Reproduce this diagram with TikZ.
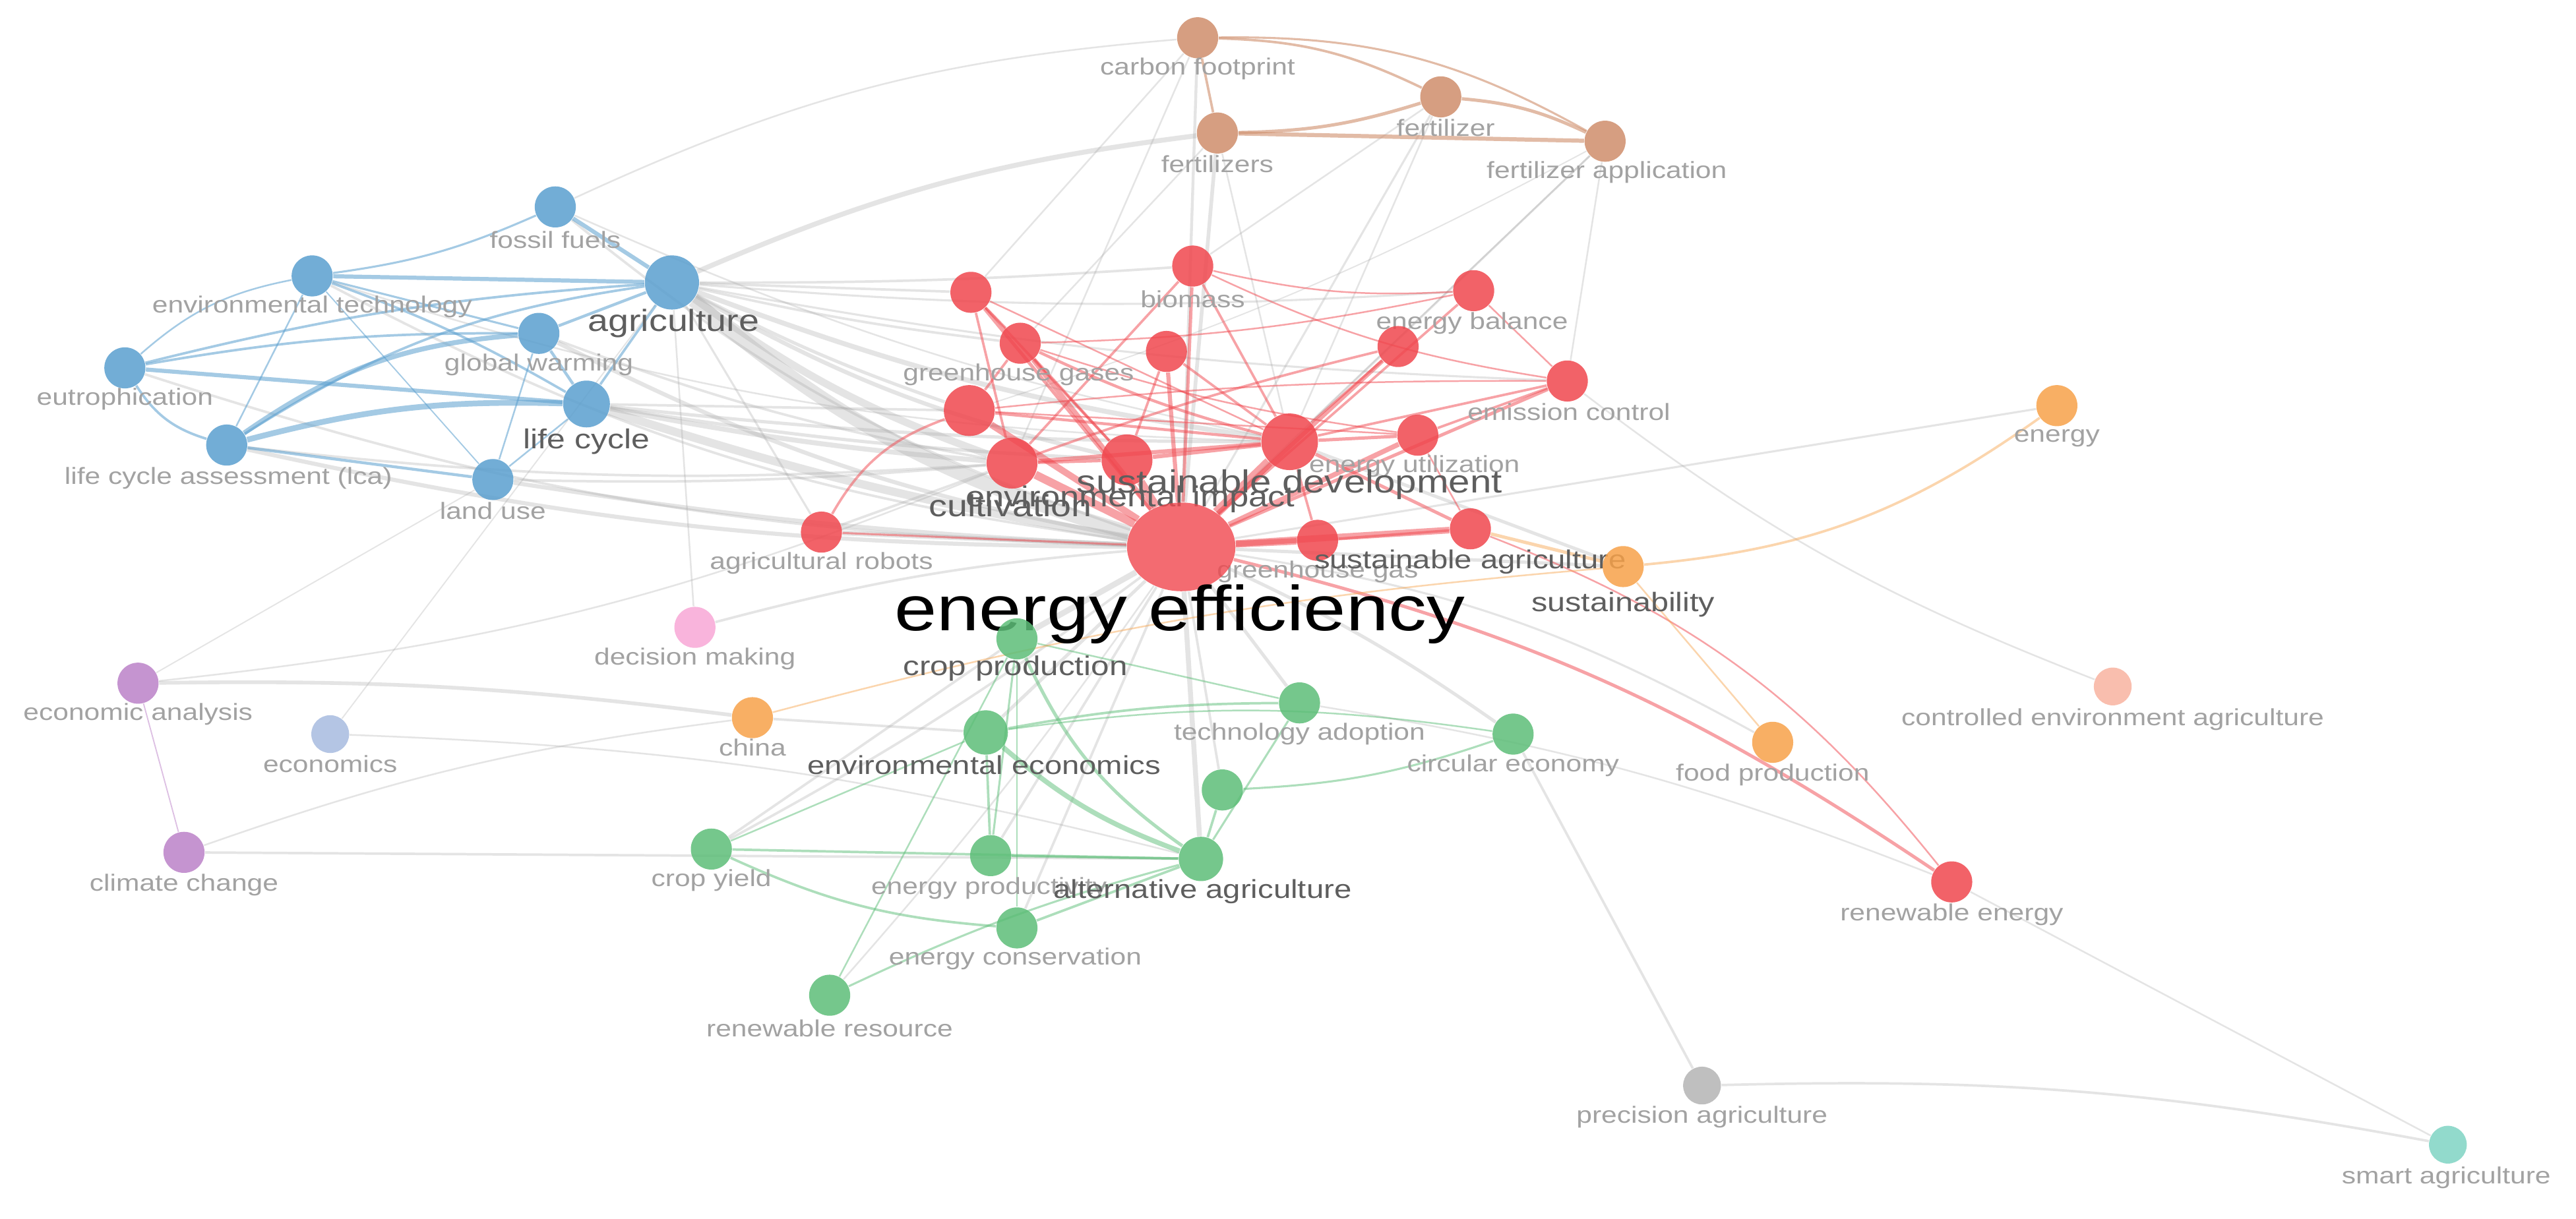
\documentclass[tikz,border=0pt]{standalone}
\usepackage{fontspec}
\setmainfont{Liberation Sans}[FakeStretch=1.2]
\usetikzlibrary{backgrounds,shapes.geometric}

\definecolor{cblue}{HTML}{5A9FCF}
\definecolor{cred}{HTML}{F0474E}
\definecolor{cgreen}{HTML}{5DBE78}
\definecolor{corange}{HTML}{F7A24A}
\definecolor{cbrown}{HTML}{CF8E6C}
\definecolor{cpurple}{HTML}{BC82C8}
\definecolor{cpink}{HTML}{F8A8D6}
\definecolor{cecon}{HTML}{A8BBE0}
\definecolor{csalmon}{HTML}{F9B3A0}
\definecolor{cgrey}{HTML}{B4B4B4}
\definecolor{cteal}{HTML}{80D4C4}
\definecolor{egrey}{HTML}{A8A8A8}
\definecolor{lgrey}{HTML}{A2A2A2}
\definecolor{mgrey}{HTML}{5E5E5E}

\begin{document}
\begin{tikzpicture}[x=0.2mm, y=-0.2mm,
  kw/.style={circle, draw=none, inner sep=0pt, minimum size=5mm, fill opacity=0.85},
  tiny/.style={minimum size=4.6mm},
  lbl/.style={inner sep=0pt, text=lgrey, font=\fontsize{8.1}{9}\selectfont},
  lblm/.style={inner sep=0pt, text=mgrey},
  gline/.style={draw=egrey, draw opacity=0.3},
  bline/.style={draw=cblue, draw opacity=0.55},
  rline/.style={draw=cred, draw opacity=0.5},
  vline/.style={draw=cgreen, draw opacity=0.5},
  oline/.style={draw=corange, draw opacity=0.45},
  nline/.style={draw=cbrown, draw opacity=0.6}]

% brown cluster
\node[kw, fill=cbrown] (cfoot) at (729,23) {};
\node[lbl] (cfoot-l) at (729,42) {carbon footprint};
\node[kw, fill=cbrown] (fzs) at (741,81) {};
\node[lbl] (fzs-l) at (741,100) {fertilizers};
\node[kw, fill=cbrown] (fz) at (877,59) {};
\node[lbl] (fz-l) at (880,78) {fertilizer};
\node[kw, fill=cbrown] (fzapp) at (977,86) {};
\node[lbl] (fzapp-l) at (978,105) {fertilizer application};

% blue cluster
\node[kw, fill=cblue] (fossil) at (338,126) {};
\node[lbl] (fossil-l) at (338,146) {fossil fuels};
\node[kw, fill=cblue, minimum size=6.6mm] (agri) at (409,172) {};
\node[lblm, font=\fontsize{10.6}{12}\selectfont] (agri-l) at (410,197) {agriculture};
\node[kw, fill=cblue] (envtech) at (190,168) {};
\node[lbl] (envtech-l) at (190,187) {environmental technology};
\node[kw, fill=cblue] (gwarm) at (328,203) {};
\node[lbl] (gwarm-l) at (328,222) {global warming};
\node[kw, fill=cblue] (eutro) at (76,224) {};
\node[lbl] (eutro-l) at (76,243) {eutrophication};
\node[kw, fill=cblue, minimum size=5.7mm] (lcyc) at (357,246) {};
\node[lblm, font=\fontsize{9.5}{11}\selectfont] (lcyc-l) at (357,269) {life cycle};
\node[kw, fill=cblue] (lca) at (138,271) {};
\node[lbl] (lca-l) at (139,291) {life cycle assessment (lca)};
\node[kw, fill=cblue] (landuse) at (300,292) {};
\node[lbl] (landuse-l) at (300,311) {land use};

% red cluster
\node[kw, fill=cred] (r1) at (591,178) {};
\node[kw, fill=cred] (ghgs) at (621,209) {};
\node[lbl] (ghgs-l) at (620,228) {greenhouse gases};
\node[kw, fill=cred] (biomass) at (726,162) {};
\node[lbl] (biomass-l) at (726,182) {biomass};
\node[kw, fill=cred] (r2) at (710,214) {};
\node[kw, fill=cred] (ebal) at (897,177) {};
\node[lbl] (ebal-l) at (896,197) {energy balance};
\node[kw, fill=cred] (r3) at (851,211) {};
\node[kw, fill=cred] (emis) at (954,232) {};
\node[lbl] (emis-l) at (955,251) {emission control};
\node[kw, fill=cred, minimum size=6.2mm] (r4) at (590,250) {};
\node[kw, fill=cred, minimum size=6.2mm] (cult) at (616,282) {};
\node[kw, fill=cred, minimum size=6.2mm] (envimp) at (686,280) {};
\node[kw, fill=cred, minimum size=6.9mm] (sdev) at (785,269) {};
\node[kw, fill=cred] (eutil) at (863,265) {};
\node[lbl] (eutil-l) at (861,284) {energy utilization};
\node[kw, fill=cred] (ghg) at (802,329) {};
\node[lbl] (ghg-l) at (802,348) {greenhouse gas};
\node[kw, fill=cred] (sagri) at (895,322) {};
\node[lblm, font=\fontsize{9}{10}\selectfont] (sagri-l) at (895,342) {sustainable agriculture};
\node[lblm, font=\fontsize{10}{11}\selectfont] (envimp-l) at (688,304) {environmental impact};
\node[lblm, font=\fontsize{10.6}{12}\selectfont] (cult-l) at (615,308) {cultivation};
\node[lblm, font=\fontsize{11.1}{12}\selectfont] (sdev-l) at (785,295) {sustainable development};
\node[ellipse, draw=none, inner sep=0pt, minimum width=13.2mm, minimum height=10.8mm, fill=cred, fill opacity=0.8] (ee) at (719,333) {};
\node[inner sep=0pt, text=black, font=\fontsize{22}{24}\selectfont] (ee-l) at (718,374) {energy efficiency};
\node[kw, fill=cred] (robots) at (500,324) {};
\node[lbl] (robots-l) at (500,343) {agricultural robots};
\node[kw, fill=cred] (renew) at (1188,537) {};
\node[lbl] (renew-l) at (1188,557) {renewable energy};

% orange cluster
\node[kw, fill=corange] (sust) at (988,345) {};
\node[lblm, font=\fontsize{9.25}{10}\selectfont] (sust-l) at (988,368) {sustainability};
\node[kw, fill=corange] (energy) at (1252,247) {};
\node[lbl] (energy-l) at (1252,267) {energy};
\node[kw, fill=corange] (food) at (1079,452) {};
\node[lbl] (food-l) at (1079,472) {food production};
\node[kw, fill=corange] (china) at (458,437) {};
\node[lbl] (china-l) at (458,455) {china};

% green cluster
\node[kw, fill=cgreen] (cprod) at (619,389) {};
\node[lblm, font=\fontsize{9.4}{10}\selectfont] (cprod-l) at (618,407) {crop production};
\node[kw, fill=cgreen, minimum size=5.4mm] (enveco) at (600,446) {};
\node[lblm, font=\fontsize{9}{10}\selectfont] (enveco-l) at (599,466) {environmental economics};
\node[kw, fill=cgreen] (tech) at (791,428) {};
\node[lbl] (tech-l) at (791,447) {technology adoption};
\node[kw, fill=cgreen] (circ) at (921,447) {};
\node[lbl] (circ-l) at (921,466) {circular economy};
\node[kw, fill=cgreen] (g1) at (744,481) {};
\node[kw, fill=cgreen] (eprod) at (603,521) {};
\node[lbl] (eprod-l) at (602,541) {energy productivity};
\node[kw, fill=cgreen, minimum size=5.4mm] (altagri) at (731,523) {};
\node[lblm, font=\fontsize{9}{10}\selectfont] (altagri-l) at (732,543) {alternative agriculture};
\node[kw, fill=cgreen] (cyield) at (433,517) {};
\node[lbl] (cyield-l) at (433,536) {crop yield};
\node[kw, fill=cgreen] (econs) at (619,565) {};
\node[lbl] (econs-l) at (618,584) {energy conservation};
\node[kw, fill=cgreen] (rres) at (505,606) {};
\node[lbl] (rres-l) at (505,626) {renewable resource};

% single keywords
\node[kw, fill=cpink] (decision) at (423,382) {};
\node[lbl] (decision-l) at (423,401) {decision making};
\node[kw, fill=cpurple] (econa) at (84,416) {};
\node[lbl] (econa-l) at (84,435) {economic analysis};
\node[kw, tiny, fill=cecon] (econ) at (201,447) {};
\node[lbl] (econ-l) at (201,465) {economics};
\node[kw, fill=cpurple] (climate) at (112,519) {};
\node[lbl] (climate-l) at (112,539) {climate change};
\node[kw, tiny, fill=csalmon] (ctrl) at (1286,418) {};
\node[lbl] (ctrl-l) at (1286,438) {controlled environment agriculture};
\node[kw, tiny, fill=cgrey] (prec) at (1036,661) {};
\node[lbl] (prec-l) at (1036,680) {precision agriculture};
\node[kw, tiny, fill=cteal] (smart) at (1490,697) {};
\node[lbl] (smart-l) at (1489,717) {smart agriculture};

\begin{scope}[on background layer]
\fill[white] (0,0) rectangle (1568,742);
% grey links
\foreach \a/\b/\w/\c in {agri/ee/1.7/-12, agri/cult/0.9/-8, agri/sdev/0.6/-6, agri/envimp/0.5/-8,
  agri/r4/0.4/-4, agri/ghgs/0.3/-3, agri/biomass/0.3/-2, agri/r1/0.3/0, agri/fzs/0.6/8,
  agri/ebal/0.25/-4, agri/emis/0.25/-4, agri/robots/0.25/0, agri/decision/0.2/0,
  lcyc/ee/1.0/-4, lcyc/cult/0.6/-3, lcyc/envimp/0.4/-3, lcyc/sdev/0.4/-3, lcyc/r4/0.3/0,
  gwarm/ee/0.5/-8, gwarm/cult/0.3/-5, lca/ee/0.5/-6, lca/cult/0.3/-5, landuse/ee/0.5/-3,
  landuse/cult/0.3/-3, eutro/ee/0.3/-8, envtech/ee/0.3/-10, envtech/sdev/0.2/-8,
  fossil/ee/0.3/-10, fossil/cfoot/0.2/10, fossil/sdev/0.2/-6,
  cfoot/ee/0.35/0, cfoot/cult/0.2/0, cfoot/r1/0.2/0, fzs/ee/0.45/0, fzs/ghgs/0.2/0,
  fzs/sdev/0.2/0, fz/ee/0.25/0, fz/sdev/0.2/0, fz/biomass/0.2/0, fzapp/ee/0.25/0,
  fzapp/sdev/0.2/0, fzapp/emis/0.2/0, fzapp/r4/0.15/5,
  econa/china/0.45/4, econa/cult/0.2/-8, econa/landuse/0.15/0, econ/altagri/0.2/6,
  econ/agri/0.15/0, climate/altagri/0.3/0, climate/china/0.2/6, decision/ee/0.3/5,
  china/enveco/0.3/0, cprod/ee/0.7/0, enveco/ee/0.4/0, tech/ee/0.4/0, circ/ee/0.4/-5,
  altagri/ee/0.6/0, g1/ee/0.3/0, cyield/ee/0.3/-4, cyield/cprod/0.3/0, rres/ee/0.2/-3,
  eprod/ee/0.3/0, econs/ee/0.3/0, robots/ee/0.6/0, robots/cult/0.3/0,
  prec/circ/0.3/0, prec/smart/0.3/6, smart/renew/0.2/0, renew/tech/0.2/-6,
  ctrl/emis/0.2/8, energy/ee/0.25/0, sust/ee/0.4/0, sdev/sust/0.4/0, food/ee/0.25/-10}
  \draw[gline, line width=\w mm] (\a) to[bend left=\c] (\b);
% blue links
\foreach \a/\b/\w/\c in {fossil/agri/0.5/0, envtech/fossil/0.25/-8, envtech/agri/0.5/0,
  envtech/lcyc/0.3/5, envtech/lca/0.2/0, envtech/gwarm/0.25/0, eutro/envtech/0.2/15,
  eutro/agri/0.3/5, eutro/gwarm/0.3/5, eutro/lcyc/0.5/0, eutro/lca/0.3/-20,
  lca/lcyc/0.7/8, lca/gwarm/0.6/15, lca/agri/0.3/12, lca/landuse/0.35/0,
  gwarm/agri/0.35/0, gwarm/lcyc/0.35/0, agri/lcyc/0.3/0, landuse/gwarm/0.2/0,
  landuse/lcyc/0.2/0, envtech/landuse/0.15/0}
  \draw[bline, line width=\w mm] (\a) to[bend left=\c] (\b);
% red links
\foreach \a/\b/\w/\c in {ee/r1/0.4/0, ee/ghgs/0.6/0, ee/biomass/0.4/0, ee/r2/0.5/0,
  ee/ebal/0.3/0, ee/r3/0.5/0, ee/emis/0.4/0, ee/r4/0.8/0, ee/cult/1.0/0, ee/envimp/1.0/0,
  ee/sdev/1.2/0, ee/eutil/0.6/0, ee/sagri/0.8/0, ee/ghg/0.8/0, ee/robots/0.25/0,
  ee/renew/0.4/10, r1/ghgs/0.3/0, r1/cult/0.3/0, r1/envimp/0.3/0, r1/sdev/0.2/0,
  ghgs/r4/0.3/0, ghgs/sdev/0.35/-5, ghgs/ebal/0.2/-5, ghgs/envimp/0.3/0, ghgs/eutil/0.2/-5,
  r4/sdev/0.35/0, r4/eutil/0.2/0, cult/sdev/0.5/0, envimp/sdev/0.5/0, cult/envimp/0.4/0,
  sdev/eutil/0.4/0, sdev/sagri/0.4/0, sdev/ghg/0.3/0, r2/envimp/0.3/0, r2/sdev/0.3/0,
  biomass/sdev/0.3/0, biomass/cult/0.3/0, biomass/ebal/0.2/-8, biomass/emis/0.2/-8,
  r3/sdev/0.3/0, r3/cult/0.3/-3, emis/sdev/0.3/0, emis/eutil/0.3/0, emis/r4/0.2/-3,
  eutil/sagri/0.2/0, sagri/ghg/0.3/0, robots/r4/0.3/20, sagri/renew/0.2/15, ebal/emis/0.2/0}
  \draw[rline, line width=\w mm] (\a) to[bend left=\c] (\b);
% green links
\foreach \a/\b/\w/\c in {cprod/altagri/0.4/-15, enveco/altagri/0.6/-10, enveco/tech/0.3/5,
  enveco/circ/0.2/8, cprod/tech/0.2/0, cyield/altagri/0.3/0, cyield/econs/0.3/-10,
  cyield/enveco/0.2/0, econs/altagri/0.3/0, rres/altagri/0.25/5, rres/cprod/0.2/0,
  eprod/enveco/0.3/0, eprod/cprod/0.25/0, g1/altagri/0.3/0, g1/circ/0.25/-8,
  tech/altagri/0.25/0, econs/cprod/0.2/0, eprod/altagri/0.3/0}
  \draw[vline, line width=\w mm] (\a) to[bend left=\c] (\b);
% orange links
\foreach \a/\b/\w/\c in {sust/energy/0.3/-15, sust/food/0.2/0, china/sust/0.2/5, sust/sagri/0.4/0}
  \draw[oline, line width=\w mm] (\a) to[bend left=\c] (\b);
% brown links
\foreach \a/\b/\w/\c in {cfoot/fzs/0.3/0, cfoot/fz/0.3/12, cfoot/fzapp/0.25/15,
  fzs/fz/0.4/-8, fzs/fzapp/0.5/0, fz/fzapp/0.4/10}
  \draw[nline, line width=\w mm] (\a) to[bend left=\c] (\b);
\draw[draw=cpurple, draw opacity=0.5, line width=0.15mm] (econa) -- (climate);
\end{scope}

\useasboundingbox (0,0) rectangle (1568,742);
\end{tikzpicture}
\end{document}
